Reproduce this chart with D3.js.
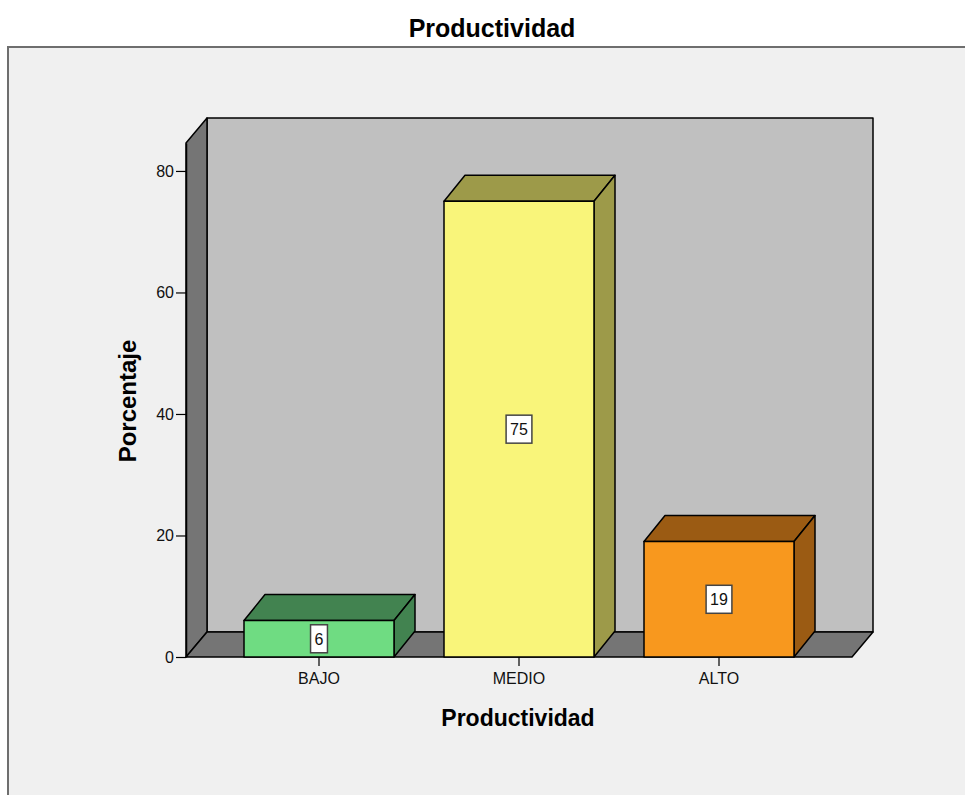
<!DOCTYPE html>
<html>
<head>
<meta charset="utf-8">
<script src="https://cdn.jsdelivr.net/npm/d3@7"></script>
<style>
  html, body { margin: 0; padding: 0; background: #ffffff; }
  svg { display: block; font-family: "Liberation Sans", Arial, sans-serif; }
</style>
</head>
<body>
<svg id="chart" width="965" height="795"></svg>
<script>
// Chart data
const categories = ["BAJO", "MEDIO", "ALTO"];
const percentages = [6, 75, 19];
const valueLabels = ["6", "75", "19"];
const yTicks = [0, 20, 40, 60, 80];
const frontColors = ["#6fdc82", "#f9f57a", "#f8981e"];
const shadeColors = ["#428350", "#9d9a49", "#9b5b13"];

const chartTitle = "Productividad";
const xTitle = "Productividad";
const yTitle = "Porcentaje";

const svg = d3.select("#chart");

// Outer panel
svg.append("rect")
  .attr("x", 8).attr("y", 47)
  .attr("width", 1000).attr("height", 800)
  .attr("fill", "#f0f0f0")
  .attr("stroke", "#6e6e6e").attr("stroke-width", 2);

// Scales
const yMax = 84.6;
const y = d3.scaleLinear().domain([0, yMax]).range([657, 143]);
const x = d3.scaleBand().domain(categories).range([219, 819])
  .paddingInner(0.25).paddingOuter(0.125);

// 3D frame geometry
const left = 186, right = 852;
const wallDX = 21, wallDY = 25;
const barDX = 21, barDY = 26;
const y0 = y(0), yTop = y(yMax);

const line = d3.line();
const frame = svg.append("g").attr("stroke", "#000").attr("stroke-width", 1.5)
  .attr("stroke-linejoin", "round");

// back wall
frame.append("rect")
  .attr("x", left + wallDX).attr("y", yTop - wallDY)
  .attr("width", right - left).attr("height", y0 - yTop)
  .attr("fill", "#c0c0c0");
// left wall
frame.append("path")
  .attr("d", line([[left, yTop], [left + wallDX, yTop - wallDY],
                   [left + wallDX, y0 - wallDY], [left, y0]]) + "Z")
  .attr("fill", "#757575");
// floor
frame.append("path")
  .attr("d", line([[left, y0], [right, y0],
                   [right + wallDX, y0 - wallDY], [left + wallDX, y0 - wallDY]]) + "Z")
  .attr("fill", "#757575");

// Bars
const bars = svg.append("g").attr("stroke", "#000").attr("stroke-width", 1.5)
  .attr("stroke-linejoin", "round");
const bw = x.bandwidth();
categories.forEach((c, i) => {
  const x0 = x(c), x1 = x0 + bw, yv = y(percentages[i]);
  const g = bars.append("g");
  g.append("path")
    .attr("d", line([[x0, yv], [x0 + barDX, yv - barDY], [x1 + barDX, yv - barDY], [x1, yv]]) + "Z")
    .attr("fill", shadeColors[i]);
  g.append("path")
    .attr("d", line([[x1, yv], [x1 + barDX, yv - barDY], [x1 + barDX, y0 - barDY], [x1, y0]]) + "Z")
    .attr("fill", shadeColors[i]);
  g.append("rect")
    .attr("x", x0).attr("y", yv).attr("width", bw).attr("height", y0 - yv)
    .attr("fill", frontColors[i]);
});

// Value labels
const labels = svg.append("g");
categories.forEach((c, i) => {
  const cx = x(c) + bw / 2, cy = y(percentages[i] / 2);
  const g = labels.append("g");
  const t = g.append("text")
    .attr("x", cx).attr("y", cy).attr("dy", "0.36em")
    .attr("text-anchor", "middle")
    .attr("font-size", 16).attr("fill", "#111")
    .text(valueLabels[i]);
  const w = t.node().getComputedTextLength() + 8;
  g.insert("rect", "text")
    .attr("x", cx - w / 2).attr("y", cy - 14)
    .attr("width", w).attr("height", 28)
    .attr("fill", "#ffffff").attr("stroke", "#444").attr("stroke-width", 1.5);
});

// Y axis
const yAxis = svg.append("g")
  .attr("transform", `translate(${left},0)`)
  .call(d3.axisLeft(y).tickValues(yTicks).tickSize(10).tickSizeOuter(0).tickPadding(2));
yAxis.select(".domain").attr("stroke", "#000").attr("stroke-width", 1.5);
yAxis.selectAll(".tick line").attr("stroke", "#000").attr("stroke-width", 1.2);
yAxis.selectAll(".tick text").attr("font-size", 16).attr("fill", "#111")
  .attr("font-family", "Liberation Sans, Arial, sans-serif");

// X axis
const xAxis = svg.append("g")
  .attr("transform", `translate(0,${y0})`)
  .call(d3.axisBottom(x).tickSize(9).tickPadding(7));
xAxis.select(".domain").remove();
xAxis.selectAll(".tick line").attr("stroke", "#000").attr("stroke-width", 1.2);
xAxis.selectAll(".tick text").attr("font-size", 16).attr("fill", "#111")
  .attr("font-family", "Liberation Sans, Arial, sans-serif");

// Titles
svg.append("text")
  .attr("x", 492).attr("y", 37)
  .attr("text-anchor", "middle")
  .attr("font-size", 25).attr("font-weight", "bold").attr("fill", "#000")
  .text(chartTitle);

svg.append("text")
  .attr("x", 518).attr("y", 726)
  .attr("text-anchor", "middle")
  .attr("font-size", 23).attr("font-weight", "bold").attr("fill", "#000")
  .text(xTitle);

svg.append("text")
  .attr("transform", "translate(136,401) rotate(-90)")
  .attr("text-anchor", "middle")
  .attr("font-size", 24).attr("font-weight", "bold").attr("fill", "#000")
  .text(yTitle);
</script>
</body>
</html>
